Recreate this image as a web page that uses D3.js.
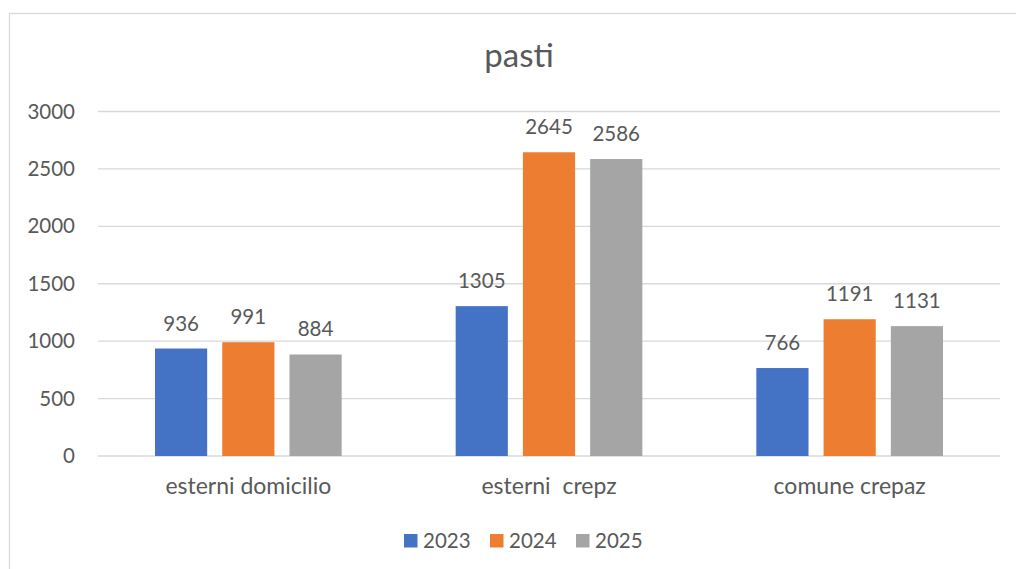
<!DOCTYPE html>
<html>
<head>
<meta charset="utf-8">
<script src="https://cdn.jsdelivr.net/npm/d3@7"></script>
<style>
  html, body { margin: 0; padding: 0; background: #fff; }
  svg { display: block; }
  text { font-family: Lato, "Open Sans", sans-serif; fill: #595959; }
</style>
</head>
<body>
<script>
const categories = ["esterni domicilio", "esterni  crepz", "comune crepaz"];
const seriesNames = ["2023", "2024", "2025"];
const values2023 = [936, 1305, 766];
const values2024 = [991, 2645, 1191];
const values2025 = [884, 2586, 1131];
const tickValues = [0, 500, 1000, 1500, 2000, 2500, 3000];
const colors = ["#4472C4", "#ED7D31", "#A5A5A5"];
const title = "pasti";

const seriesValues = [values2023, values2024, values2025];
const W = 1016, H = 569;

const svg = d3.select("body").append("svg").attr("width", W).attr("height", H);

// chart border
svg.append("rect")
  .attr("x", 9.5).attr("y", 13.5)
  .attr("width", 1020).attr("height", 600)
  .attr("fill", "none").attr("stroke", "#D9D9D9").attr("stroke-width", 1.3);

const plotLeft = 98, plotRight = 1000;
const y = d3.scaleLinear().domain([0, 3000]).range([456, 111.5]);
const x0 = d3.scaleBand().domain(categories).range([plotLeft, plotRight]).padding(0);
const groupPad = 57;
const x1 = d3.scaleBand().domain(seriesNames)
  .range([groupPad, x0.bandwidth() - groupPad]).paddingInner(0.224).paddingOuter(0);

// gridlines
svg.append("g").selectAll("line").data(tickValues).join("line")
  .attr("x1", plotLeft).attr("x2", plotRight)
  .attr("y1", d => y(d)).attr("y2", d => y(d))
  .attr("stroke", "#D9D9D9").attr("stroke-width", 1.3);

// y axis labels
const yAxis = d3.axisLeft(y).tickValues(tickValues).tickSize(0).tickPadding(0).tickFormat(d3.format("d"));
const yg = svg.append("g").attr("transform", "translate(75,0)").call(yAxis);
yg.select(".domain").remove();
yg.selectAll("text").style("font-size", "20.5px").style("font-family", "Lato, sans-serif").attr("fill", "#595959");

// bars
const groups = svg.append("g").selectAll("g").data(categories).join("g")
  .attr("transform", d => `translate(${x0(d)},0)`);

groups.selectAll("rect").data((c, i) => seriesNames.map((s, j) => ({s, v: seriesValues[j][i], j})))
  .join("rect")
  .attr("x", d => x1(d.s)).attr("width", x1.bandwidth())
  .attr("y", d => y(d.v)).attr("height", d => y(0) - y(d.v))
  .attr("fill", d => colors[d.j]);

groups.selectAll("text.val").data((c, i) => seriesNames.map((s, j) => ({s, v: seriesValues[j][i], j})))
  .join("text").attr("class", "val")
  .attr("x", d => x1(d.s) + x1.bandwidth() / 2)
  .attr("y", d => y(d.v) - 18)
  .attr("text-anchor", "middle").style("font-size", "20.5px")
  .text(d => d.v);

// x axis labels
const xAxis = d3.axisBottom(x0).tickSize(0).tickPadding(0);
const xg = svg.append("g").attr("transform", "translate(0,456)").call(xAxis);
xg.select(".domain").remove();
xg.selectAll("text").attr("dy", null).attr("y", 38)
  .style("font-size", "23px").style("font-family", "Lato, sans-serif")
  .style("white-space", "pre").attr("fill", "#595959");

// title
svg.append("text").attr("x", 519).attr("y", 67).attr("text-anchor", "middle")
  .style("font-size", "33px").text(title);

// legend
const legendX = [404, 490, 576];
const lg = svg.append("g").selectAll("g").data(seriesNames).join("g")
  .attr("transform", (d, i) => `translate(${legendX[i]},0)`);
lg.append("rect").attr("x", 0).attr("y", 534).attr("width", 13.5).attr("height", 13.5)
  .attr("fill", (d, i) => colors[i]);
lg.append("text").attr("x", 19).attr("y", 548).style("font-size", "20.5px").text(d => d);
</script>
</body>
</html>
